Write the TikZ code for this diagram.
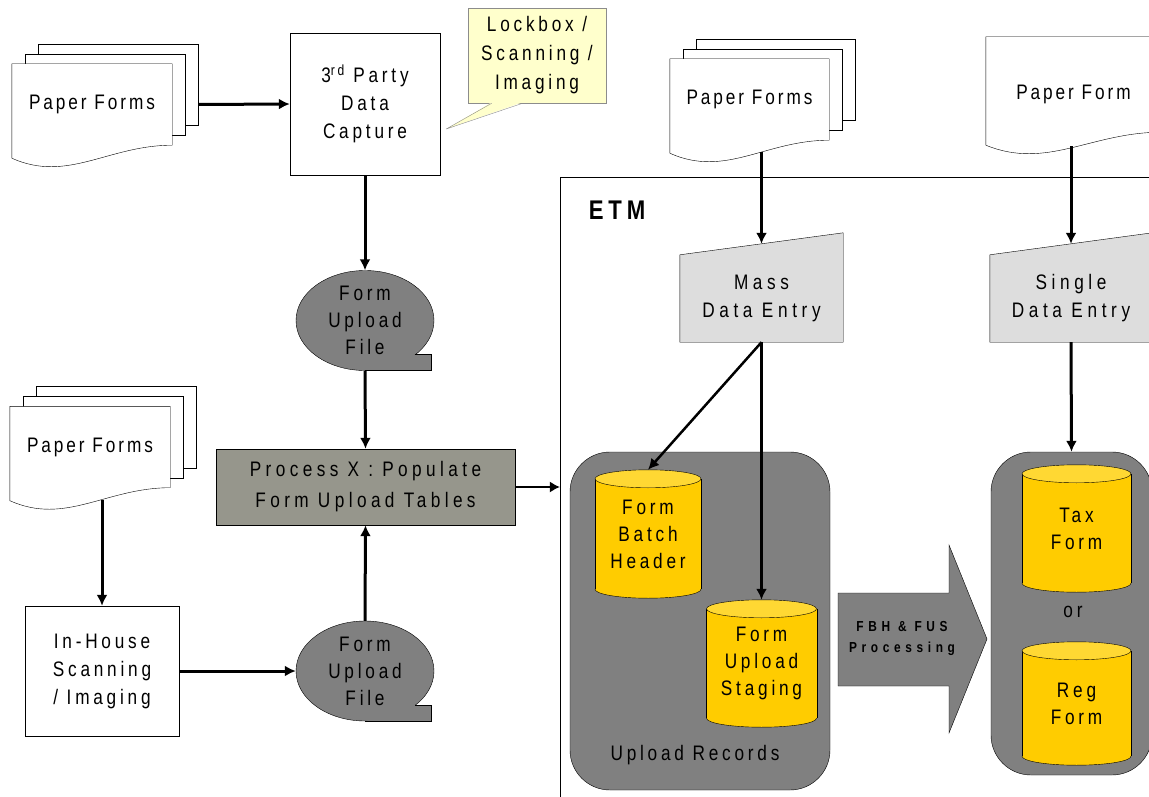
\documentclass[tikz,border=0pt]{standalone}
\usepackage{fontspec}
\setmainfont{Liberation Sans}[FakeStretch=0.82,LetterSpace=18]
\newfontfamily\sheetfont{Liberation Sans}[FakeStretch=0.82,LetterSpace=14]
\newfontfamily\entryfont{Liberation Sans}[FakeStretch=0.82,LetterSpace=22]
\newfontfamily\spacedfont{Liberation Sans}[FakeStretch=0.82,LetterSpace=32]
\usepackage{tikz}
\usetikzlibrary{arrows.meta,calc}
\definecolor{boxgray}{RGB}{128,128,128}
\definecolor{procgray}{RGB}{150,150,140}
\definecolor{entrygray}{RGB}{221,221,221}
\definecolor{drumyellow}{RGB}{255,204,0}
\definecolor{drumtop}{RGB}{255,216,51}
\definecolor{noteyellow}{RGB}{255,255,204}
\definecolor{notegray}{RGB}{140,140,140}

\pgfdeclarelayer{back}
\pgfdeclarelayer{shapes}
\pgfsetlayers{back,shapes,main}

% paper sheet with wavy bottom, #2 = width
\newcommand{\docsheet}[2]{%
  \draw[fill=white] (#1.north east) -- (#1.north west) -- ($(#1.south west)+(0,13)$)
    .. controls +(0.35*#2,25) and +(-0.4*#2,0) .. (#1.south east) -- cycle;}
\newcommand{\docstack}[2]{%
  \draw[fill=white] ($(#1.north west)+(26,-20)$) rectangle ($(#1.south east)+(26,-20)$);
  \draw[fill=white] ($(#1.north west)+(13,-10)$) rectangle ($(#1.south east)+(13,-10)$);
  \docsheet{#1}{#2}}
\newcommand{\entryshape}[1]{%
  \draw[fill=entrygray] (#1.south west) -- (#1.north west) -- ($(#1.north east)+(0,-22)$)
    -- (#1.south east) -- cycle;}
\newcommand{\tapeshape}[1]{%
  \draw[fill=boxgray] (#1.center) ellipse [x radius=69, y radius=50];
  \fill[boxgray] ($(#1.center)+(0,50)$) -- ++(66,0) -- ++(0,-16) -- ++(-17,0) -- cycle;
  \draw ($(#1.center)+(0,50)$) -- ++(66,0) -- ++(0,-16) -- ++(-16,0);}
\newcommand{\drumshape}[2]{%
  \draw[fill=drumyellow] ($(#1.south)+(0,-9)$) ellipse [x radius=#2, y radius=9];
  \fill[drumyellow] ($(#1.north west)+(0,9)$) rectangle ($(#1.south east)+(0,-9)$);
  \draw ($(#1.north west)+(0,9)$) -- ($(#1.south west)+(0,-9)$)
        ($(#1.north east)+(0,9)$) -- ($(#1.south east)+(0,-9)$);
  \draw[fill=drumtop] ($(#1.north)+(0,9)$) ellipse [x radius=#2, y radius=9];}

\begin{document}
\begin{tikzpicture}[x=1pt, y=-1pt, line width=1.2pt,
  txt/.style={font=\fontsize{21}{27}\selectfont, align=center, inner sep=0pt},
  box/.style={txt, rectangle, draw, fill=white},
  sheet/.style={txt, font=\sheetfont\fontsize{21}{27}\selectfont, minimum width=160, minimum height=81},
  entry/.style={txt, font=\entryfont\fontsize{21}{28}\selectfont, minimum width=163, minimum height=87},
  tape/.style={txt, minimum width=138, minimum height=100},
  drum/.style={txt, minimum height=127},
  group/.style={draw, fill=boxgray, rounded corners=40pt},
  arr/.style={-{Latex[length=11pt,width=11pt]}, line width=3pt},
  thinarr/.style={-{Latex[length=10pt,width=11pt]}, line width=1.2pt}
]
  \useasboundingbox (0,0) rectangle (1149,797);

  \begin{pgfonlayer}{back}
    \node[draw, minimum width=690, minimum height=723] (etm) at (905,538.5) {};
    \node[group, minimum width=260, minimum height=338] (upl) at (700,621) {};
    \node[group, minimum width=161, minimum height=323] (alt) at (1071.5,613.5) {};
  \end{pgfonlayer}

  \node[sheet] (pf1) at (92,104.5) {Paper Forms};
  \node[box, minimum width=150, minimum height=142, font=\fontsize{21}{28}\selectfont] (cap) at (365,104) {3\textsuperscript{rd} Party\\Data\\Capture};
  \node[box, fill=noteyellow, draw=notegray, minimum width=138, minimum height=95,
        font=\fontsize{21}{29}\selectfont] (lock) at (537,55.5) {Lockbox /\\Scanning /\\Imaging};
  \node[tape] (fuf1) at (365,320.5) {Form\\Upload\\File};
  \node[box, fill=procgray, minimum width=299, minimum height=76,
        font=\fontsize{21}{31}\selectfont\addfontfeatures{LetterSpace=21}] (procx) at (365.5,487) {Process X : Populate\\Form Upload Tables};
  \node[sheet] (pf3) at (90,447) {Paper Forms};
  \node[box, minimum width=154, minimum height=130, font=\fontsize{21}{28}\selectfont] (inh) at (102,671) {In-House\\Scanning\\/ Imaging};
  \node[tape] (fuf2) at (365,671) {Form\\Upload\\File};

  \node[txt, font=\fontsize{27}{30}\selectfont\bfseries] (etmlbl) at (617,210) {ETM};
  \node[sheet, minimum width=159] (pf2) at (749.5,99.5) {Paper Forms};
  \node[entry] (mass) at (761.5,298.5) {Mass\\Data Entry};
  \node[sheet, minimum width=175, minimum height=95] (pf4) at (1073.5,84.5) {\raisebox{-10pt}[\height][\depth]{Paper Form}};
  \node[entry, minimum width=162] (sde) at (1071,298.5) {Single\\Data Entry};

  \node[drum, minimum width=106, minimum height=128] (fbh) at (648,534) {Form\\Batch\\Header};
  \node[drum, minimum width=110] (fus) at (761.5,663.5) {Form\\Upload\\Staging};
  \node[txt] (upllbl) at (695,755) {Upload Records};
  \node[txt, font=\spacedfont\fontsize{14.5}{21}\selectfont\bfseries] (fbhfus) at (902,638) {FBH \& FUS\\Processing};
  \node[drum, minimum width=109] (tax) at (1076.5,528.5) {Tax\\Form};
  \node[txt] (orlbl) at (1073,612) {or};
  \node[drum, minimum width=109, minimum height=123] (reg) at (1076.5,703.5) {Reg\\Form};

  \begin{pgfonlayer}{shapes}
    \docstack{pf1}{160}
    \docstack{pf3}{160}
    \docstack{pf2}{159}
    \docsheet{pf4}{175}
    \tapeshape{fuf1}
    \tapeshape{fuf2}
    \entryshape{mass}
    \entryshape{sde}
    \drumshape{fbh}{53}
    \drumshape{fus}{55}
    \drumshape{tax}{54.5}
    \drumshape{reg}{54.5}
    \draw[fill=boxgray] (838,593) -- (949,593) -- (949,545) -- (987,639)
      -- (949,733) -- (949,686) -- (838,686) -- cycle;
  \end{pgfonlayer}

  \fill[noteyellow] ($(lock.south west)+(24,-1)$) -- ($(cap.east)+(6,25)$) -- ($(lock.south west)+(55,-1)$) -- cycle;
  \draw[notegray] ($(lock.south west)+(24,0)$) -- ($(cap.east)+(6,25)$) -- ($(lock.south west)+(55,0)$);

  \draw[arr] ($(pf1.east)+(26,0)$) -- (cap.west);
  \draw[arr] (cap.south) -- (fuf1.north);
  \draw[arr] (fuf1.south) -- (procx.north);
  \draw[arr] ($(pf3.south -| inh.north)+(0,12)$) -- (inh.north);
  \draw[arr] (inh.east) -- (fuf2.west);
  \draw[arr] (fuf2.north) -- (procx.south);
  \draw[thinarr] (procx.east) -- (procx.east -| etm.west);
  \draw[arr] ($(pf2.south -| mass.north)+(0,12)$) -- ($(mass.north)+(0,-11)$);
  \draw[arr] ($(pf4.south -| sde.north)+(0,14)$) -- ($(sde.north)+(0,-11)$);
  \draw[arr] (mass.south) -- (fus.north);
  \draw[arr, line width=2.5pt] (mass.south) -- (fbh.north);
  \draw[arr] (sde.south) -- (alt.north);
\end{tikzpicture}
\end{document}
